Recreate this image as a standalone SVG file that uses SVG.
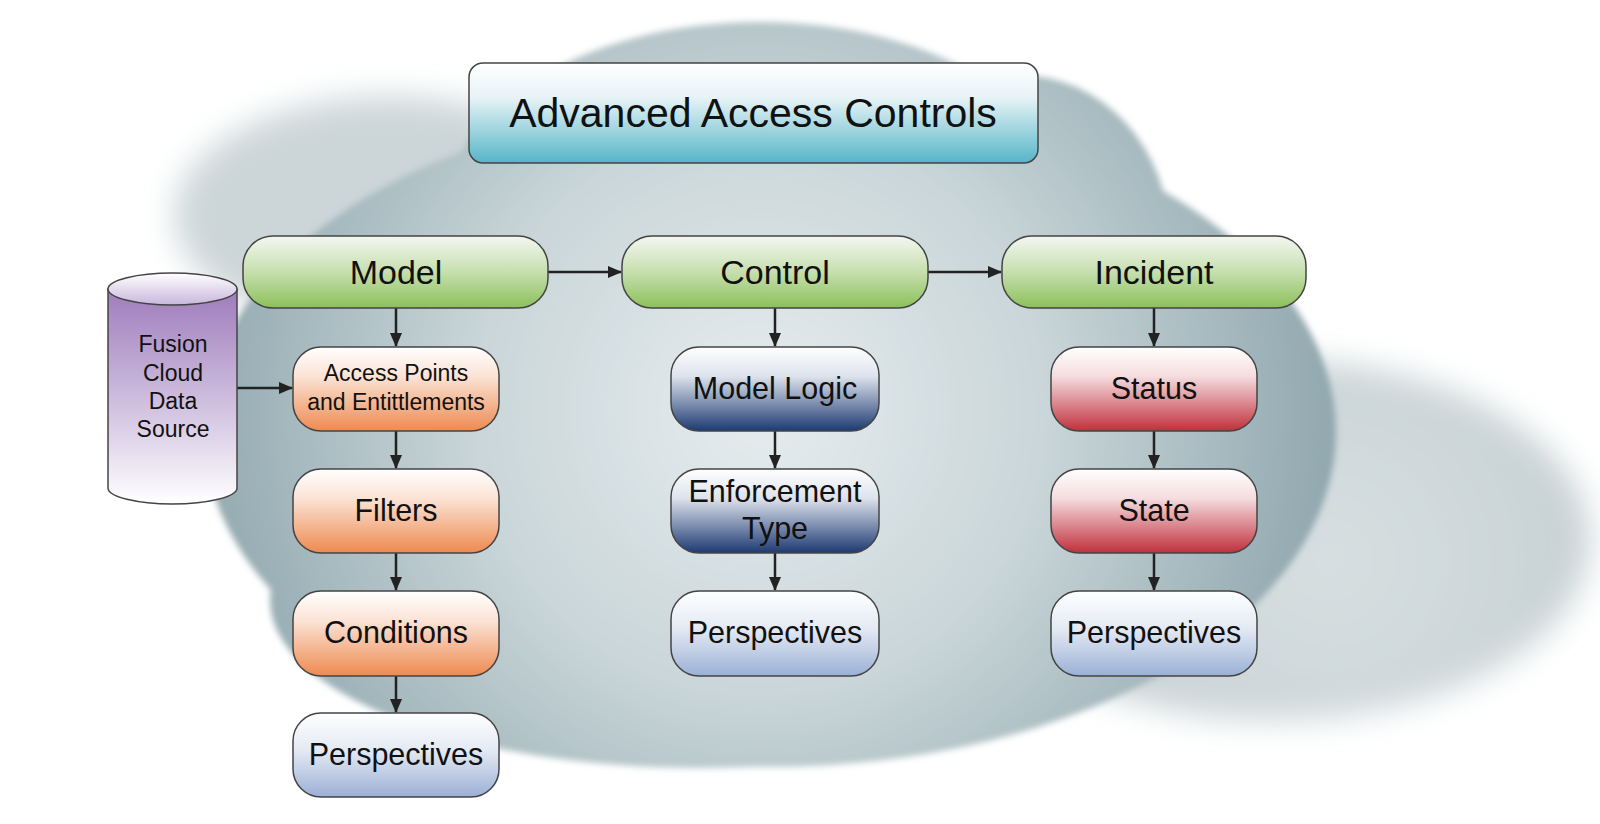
<svg xmlns="http://www.w3.org/2000/svg" width="1600" height="824" viewBox="0 0 1600 824">
<defs>
<radialGradient id="cloudG" gradientUnits="userSpaceOnUse" cx="760" cy="410" r="630">
<stop offset="0" stop-color="#e6ecee"/>
<stop offset="0.45" stop-color="#cad6d9"/>
<stop offset="0.8" stop-color="#9eb3b9"/>
<stop offset="1" stop-color="#88a0a7"/>
</radialGradient>
<radialGradient id="puffG" gradientUnits="userSpaceOnUse" cx="1330" cy="560" r="330">
<stop offset="0" stop-color="#d7dfe1"/>
<stop offset="1" stop-color="#c4ced1"/>
</radialGradient>
<filter id="soft" x="-20%" y="-20%" width="140%" height="140%"><feGaussianBlur stdDeviation="16"/></filter>
<filter id="soft2" x="-20%" y="-20%" width="140%" height="140%"><feGaussianBlur stdDeviation="3"/></filter>
<linearGradient id="gTitle" x1="0" y1="0" x2="0" y2="1"><stop offset="0" stop-color="#ffffff"/><stop offset="0.35" stop-color="#e6f3f6"/><stop offset="1" stop-color="#55b5c8"/></linearGradient>
<linearGradient id="gGreen" x1="0" y1="0" x2="0" y2="1"><stop offset="0" stop-color="#f4f7f1"/><stop offset="0.5" stop-color="#c6dfae"/><stop offset="1" stop-color="#8cc05a"/></linearGradient>
<linearGradient id="gOrange" x1="0" y1="0" x2="0" y2="1"><stop offset="0" stop-color="#ffffff"/><stop offset="0.35" stop-color="#fbe3d5"/><stop offset="1" stop-color="#ee8a50"/></linearGradient>
<linearGradient id="gNavy" x1="0" y1="0" x2="0" y2="1"><stop offset="0" stop-color="#ffffff"/><stop offset="0.35" stop-color="#dde2ec"/><stop offset="1" stop-color="#1d3a72"/></linearGradient>
<linearGradient id="gRed" x1="0" y1="0" x2="0" y2="1"><stop offset="0" stop-color="#ffffff"/><stop offset="0.35" stop-color="#f5dcdf"/><stop offset="1" stop-color="#c0303c"/></linearGradient>
<linearGradient id="gPersp" x1="0" y1="0" x2="0" y2="1"><stop offset="0" stop-color="#ffffff"/><stop offset="0.45" stop-color="#e3e9f3"/><stop offset="1" stop-color="#9bb0d6"/></linearGradient>
<linearGradient id="gCyl" x1="0" y1="0" x2="0" y2="1"><stop offset="0" stop-color="#9e7cbc"/><stop offset="0.6" stop-color="#d6c8e3"/><stop offset="1" stop-color="#ffffff"/></linearGradient>
<linearGradient id="gCylTop" x1="0" y1="0" x2="0" y2="1"><stop offset="0" stop-color="#ffffff"/><stop offset="1" stop-color="#c9b6dc"/></linearGradient>
<marker id="arr" viewBox="0 0 14 12" refX="13" refY="6" markerWidth="14" markerHeight="12" markerUnits="userSpaceOnUse" orient="auto">
<path d="M0,0 L14,6 L0,12 Z" fill="#222"/>
</marker>
<style>
.box{stroke:#444;stroke-width:1.5}
.t{font-family:"Liberation Sans",Arial,sans-serif;fill:#111;text-anchor:middle}
.big{font-size:34px}
.mid{font-size:30.5px}
.sm{font-size:23px}
.conn{stroke:#222;stroke-width:2.5;fill:none}
</style>
</defs>
<rect width="1600" height="824" fill="#ffffff"/>
<g id="cloud">
<ellipse cx="1275" cy="540" rx="315" ry="180" fill="url(#puffG)" filter="url(#soft)"/>
<ellipse cx="390" cy="215" rx="215" ry="118" fill="#ccd5d8" filter="url(#soft)"/>
<g filter="url(#soft2)" fill="url(#cloudG)">
<ellipse cx="770" cy="432" rx="566" ry="335"/>
<ellipse cx="760" cy="222" rx="320" ry="200"/>
<ellipse cx="1020" cy="240" rx="150" ry="165"/>
<ellipse cx="440" cy="300" rx="170" ry="90"/>
<ellipse cx="700" cy="600" rx="430" ry="168"/>
</g>
</g>
<g id="connectors">
<line class="conn" x1="548" y1="272" x2="621" y2="272" marker-end="url(#arr)"/>
<line class="conn" x1="928" y1="272" x2="1001" y2="272" marker-end="url(#arr)"/>
<line class="conn" x1="237" y1="388" x2="292" y2="388" marker-end="url(#arr)"/>
<line class="conn" x1="396" y1="308" x2="396" y2="346" marker-end="url(#arr)"/>
<line class="conn" x1="396" y1="431" x2="396" y2="468" marker-end="url(#arr)"/>
<line class="conn" x1="396" y1="553" x2="396" y2="590" marker-end="url(#arr)"/>
<line class="conn" x1="396" y1="676" x2="396" y2="712" marker-end="url(#arr)"/>
<line class="conn" x1="775" y1="308" x2="775" y2="346" marker-end="url(#arr)"/>
<line class="conn" x1="775" y1="431" x2="775" y2="468" marker-end="url(#arr)"/>
<line class="conn" x1="775" y1="553" x2="775" y2="590" marker-end="url(#arr)"/>
<line class="conn" x1="1154" y1="308" x2="1154" y2="346" marker-end="url(#arr)"/>
<line class="conn" x1="1154" y1="431" x2="1154" y2="468" marker-end="url(#arr)"/>
<line class="conn" x1="1154" y1="553" x2="1154" y2="590" marker-end="url(#arr)"/>
</g>
<g id="title">
<rect class="box" x="469" y="63" width="569" height="100" rx="14" fill="url(#gTitle)"/>
<text class="t" x="753" y="127" font-size="41">Advanced Access Controls</text>
</g>
<g id="model">
<rect class="box" x="243" y="236" width="305" height="72" rx="30" fill="url(#gGreen)"/>
<text class="t big" x="396" y="284">Model</text>
</g>
<g id="control">
<rect class="box" x="622" y="236" width="306" height="72" rx="30" fill="url(#gGreen)"/>
<text class="t big" x="775" y="284">Control</text>
</g>
<g id="incident">
<rect class="box" x="1002" y="236" width="304" height="72" rx="30" fill="url(#gGreen)"/>
<text class="t big" x="1154" y="284">Incident</text>
</g>
<g id="datasource">
<path class="box" d="M108,289 L108,488 A64.5,16 0 0 0 237,488 L237,289 Z" fill="url(#gCyl)"/>
<ellipse class="box" cx="172.5" cy="289" rx="64.5" ry="16" fill="url(#gCylTop)"/>
<text class="t sm" x="173" y="352">Fusion</text>
<text class="t sm" x="173" y="381">Cloud</text>
<text class="t sm" x="173" y="409">Data</text>
<text class="t sm" x="173" y="437">Source</text>
</g>
<g id="access-points">
<rect class="box" x="293" y="347" width="206" height="84" rx="28" fill="url(#gOrange)"/>
<text class="t sm" x="396" y="381">Access Points</text>
<text class="t sm" x="396" y="410">and Entittlements</text>
</g>
<g id="filters">
<rect class="box" x="293" y="469" width="206" height="84" rx="28" fill="url(#gOrange)"/>
<text class="t mid" x="396" y="521">Filters</text>
</g>
<g id="conditions">
<rect class="box" x="293" y="591" width="206" height="85" rx="28" fill="url(#gOrange)"/>
<text class="t mid" x="396" y="643">Conditions</text>
</g>
<g id="perspectives-model">
<rect class="box" x="293" y="713" width="206" height="84" rx="28" fill="url(#gPersp)"/>
<text class="t mid" x="396" y="765">Perspectives</text>
</g>
<g id="model-logic">
<rect class="box" x="671" y="347" width="208" height="84" rx="28" fill="url(#gNavy)"/>
<text class="t mid" x="775" y="399">Model Logic</text>
</g>
<g id="enforcement-type">
<rect class="box" x="671" y="469" width="208" height="84" rx="28" fill="url(#gNavy)"/>
<text class="t mid" x="775" y="502">Enforcement</text>
<text class="t mid" x="775" y="539">Type</text>
</g>
<g id="perspectives-control">
<rect class="box" x="671" y="591" width="208" height="85" rx="28" fill="url(#gPersp)"/>
<text class="t mid" x="775" y="643">Perspectives</text>
</g>
<g id="status">
<rect class="box" x="1051" y="347" width="206" height="84" rx="28" fill="url(#gRed)"/>
<text class="t mid" x="1154" y="399">Status</text>
</g>
<g id="state">
<rect class="box" x="1051" y="469" width="206" height="84" rx="28" fill="url(#gRed)"/>
<text class="t mid" x="1154" y="521">State</text>
</g>
<g id="perspectives-incident">
<rect class="box" x="1051" y="591" width="206" height="85" rx="28" fill="url(#gPersp)"/>
<text class="t mid" x="1154" y="643">Perspectives</text>
</g>
</svg>
